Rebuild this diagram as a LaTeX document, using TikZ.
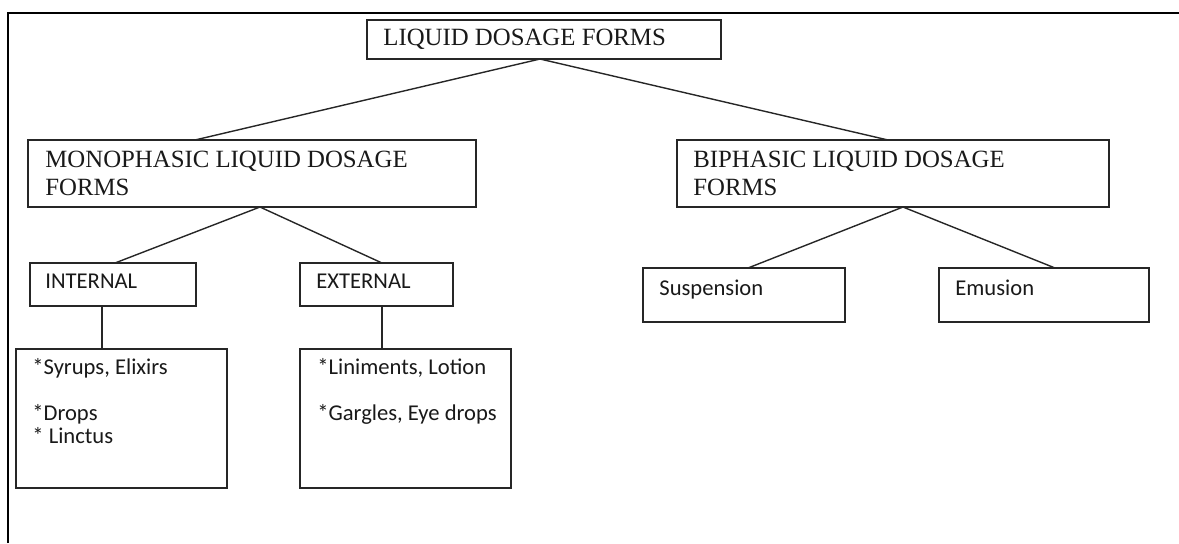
\documentclass[tikz,border=0pt]{standalone}
\usepackage{fontspec}
\setmainfont{Liberation Serif}
\setsansfont{Carlito}
\usetikzlibrary{positioning,fit}

\begin{document}
\begin{tikzpicture}[
  x=0.5pt, y=-0.5pt,
  box/.style={rectangle, draw=black!85, line width=0.7pt, inner sep=0pt, outer sep=0pt},
  head/.style={anchor=base west, inner sep=0pt, align=left, text=black!90, font=\fontsize{12.4}{14}\selectfont},
  item/.style={anchor=base west, inner sep=0pt, align=left, text=black!90, font=\sffamily\fontsize{11.3}{11.5}\selectfont},
  link/.style={draw=black!85, line width=0.7pt}
]
\useasboundingbox (0,0) rectangle (1179,543);

% frame
\draw[line width=1.3pt] (8,543) -- (8,13) -- (1179,13);

% boxes
\node[box, fit={(367,20) (721,59)}] (forms) {};
\node[box, fit={(28,140) (476,207)}] (mono) {};
\node[box, fit={(677,140) (1109,207)}] (bi) {};
\node[box, fit={(30,263) (196,306)}] (internal) {};
\node[box, fit={(300,263) (453,306)}] (external) {};
\node[box, fit={(16,349) (227,488)}] (syrups) {};
\node[box, fit={(300,349) (511,488)}] (liniments) {};
\node[box, fit={(643,268) (845,322)}] (suspension) {};
\node[box, fit={(939,268) (1149,322)}] (emusion) {};

% texts (base = last line)
\node[head] (formstxt) at (383,45) {LIQUID DOSAGE FORMS};
\node[head] (monotxt) at (45,195) {MONOPHASIC LIQUID DOSAGE\\FORMS};
\node[head] (bitxt) at (693,195) {BIPHASIC LIQUID DOSAGE\\FORMS};
\node[item] (internaltxt) at (45,288) {INTERNAL};
\node[item] (externaltxt) at (316,288) {EXTERNAL};
\node[item] (syrupstxt) at (32,443) {*Syrups, Elixirs\\[11.5pt]*Drops\\* Linctus};
\node[item] (linimentstxt) at (317,420) {*Liniments, Lotion\\[11.5pt]*Gargles, Eye drops};
\node[item] (suspensiontxt) at (659,295) {Suspension};
\node[item] (emusiontxt) at (955,295) {Emusion};

% connectors
\draw[link] (540,0 |- forms.south) -- (195,0 |- mono.north);
\draw[link] (540,0 |- forms.south) -- (888,0 |- bi.north);
\draw[link] (260,0 |- mono.south) -- (115,0 |- internal.north);
\draw[link] (260,0 |- mono.south) -- (382,0 |- external.north);
\draw[link] (102,0 |- internal.south) -- (102,0 |- syrups.north);
\draw[link] (382,0 |- external.south) -- (382,0 |- liniments.north);
\draw[link] (903,0 |- bi.south) -- (748,0 |- suspension.north);
\draw[link] (903,0 |- bi.south) -- (1055,0 |- emusion.north);

\end{tikzpicture}
\end{document}
